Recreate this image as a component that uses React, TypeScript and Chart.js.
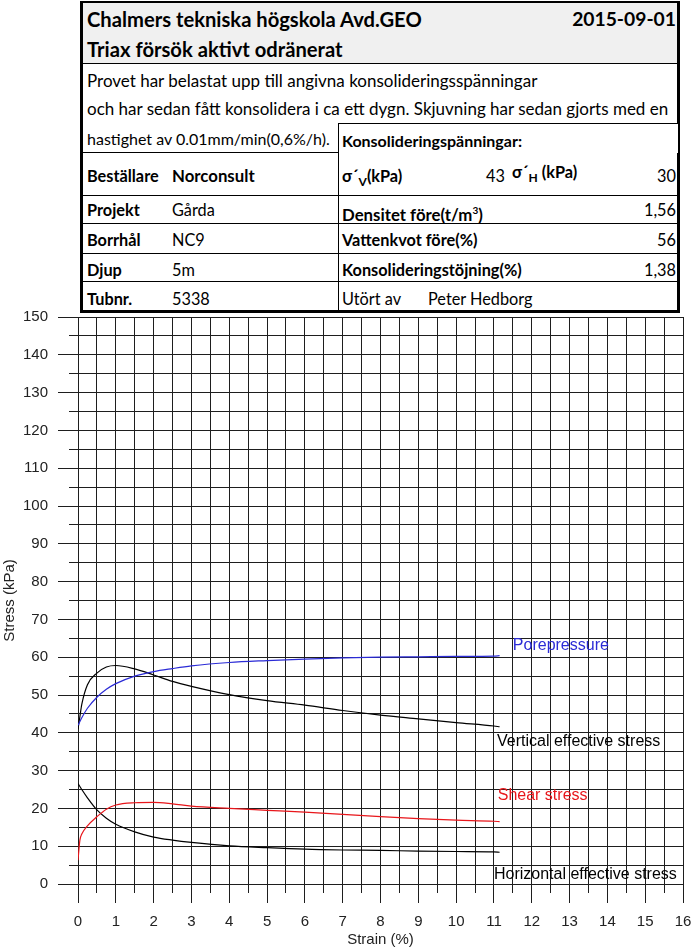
import React, { useEffect, useRef } from 'react';
import { Chart, registerables } from 'chart.js';

Chart.register(...registerables);

// ---- data ----
const strain = [0, 0.05, 0.1, 0.25, 0.5, 0.75, 1, 1.5, 2, 2.5, 3, 4, 5, 6, 7, 8, 9, 10, 11, 11.15];
const porePressure = [42, 43, 44, 46.5, 49.4, 51.5, 53, 55, 56.2, 57, 57.7, 58.6, 59.1, 59.5, 59.8, 60, 60.1, 60.2, 60.3, 60.4];
const verticalEff = [41, 44.3, 47.5, 52.7, 55.8, 57.4, 57.8, 56.9, 55.3, 53.6, 52.3, 50.1, 48.5, 47.3, 45.9, 44.7, 43.7, 42.7, 41.8, 41.6];
const shearStress = [6.3, 11.6, 13.2, 15.4, 17.8, 19.8, 20.9, 21.5, 21.6, 21.2, 20.6, 20, 19.5, 19, 18.4, 17.8, 17.3, 16.9, 16.6, 16.5];
const horizontalEff = [26.6, 25.8, 25.0, 22.8, 19.6, 17.4, 15.8, 13.8, 12.4, 11.6, 11.0, 10.1, 9.6, 9.2, 9.0, 8.9, 8.7, 8.6, 8.5, 8.4];

const seriesNames = ['Porepressure', 'Vertical effective stress', 'Shear stress', 'Horizontal effective stress'];
const seriesColors = ['#2b2bd6', '#000000', '#e8161b', '#000000'];
// label anchors in data units (strain %, stress kPa)
const labelStrain = [11.5, 11.08, 11.1, 11.0];
const labelStress = [63.0, 37.6, 23.3, 2.6];

const xMin = 0, xMax = 16, xStep = 0.5;
const yMin = 0, yMax = 150, yStep = 5;

const GRID = '#1e1e1e';
const AXIS_FONT = "'Liberation Sans', Arial, sans-serif";
const TABLE_FONT = "Lato, 'Open Sans', sans-serif";

const pts = (ys: number[]) => strain.map((x, i) => ({ x, y: ys[i] }));

const extPlugin = {
  id: 'ext',
  afterDatasetsDraw(chart: any) {
    const { ctx, chartArea, scales } = chart;
    const xs = scales.x, ys = scales.y;
    ctx.save();
    ctx.strokeStyle = GRID;
    ctx.lineWidth = 1;
    ctx.beginPath();
    ys.ticks.forEach((t: any) => {
      const y = Math.round(ys.getPixelForValue(t.value) - 0.5) + 0.5;
      const len = t.value % 10 === 0 ? 20 : 9;
      ctx.moveTo(chartArea.left - len, y);
      ctx.lineTo(chartArea.left, y);
    });
    xs.ticks.forEach((t: any) => {
      const x = Math.round(xs.getPixelForValue(t.value) - 0.5) + 0.5;
      const len = Number.isInteger(t.value) ? 19 : 9;
      ctx.moveTo(x, chartArea.bottom);
      ctx.lineTo(x, chartArea.bottom + len);
    });
    ctx.stroke();
    ctx.font = `16px ${AXIS_FONT}`;
    ctx.textBaseline = 'middle';
    ctx.textAlign = 'left';
    seriesNames.forEach((n, i) => {
      ctx.fillStyle = seriesColors[i];
      ctx.fillText(n, xs.getPixelForValue(labelStrain[i]), ys.getPixelForValue(labelStress[i]));
    });
    ctx.restore();
  },
};

const sh = { position: 'absolute' as const, background: '#000' };
const HL = (x1: number, x2: number, y: number, w = 1, k?: string) => (
  <div key={k} style={{ ...sh, left: x1, top: y, width: x2 - x1, height: w }} />
);
const VL = (x: number, y1: number, y2: number, w = 1, k?: string) => (
  <div key={k} style={{ ...sh, left: x, top: y1, width: w, height: y2 - y1 }} />
);

function T(props: { x: number; y: number; b?: boolean; s?: number; r?: boolean; children: any }) {
  const { x, y, b, s = 16.3, r, children } = props;
  const h = 24;
  const style: any = {
    position: 'absolute',
    top: y - h / 2,
    height: h,
    lineHeight: h + 'px',
    whiteSpace: 'nowrap',
    fontFamily: TABLE_FONT,
    fontWeight: b ? 700 : 400,
    fontSize: s,
    color: '#000',
  };
  if (r) style.right = 692 - x; else style.left = x;
  return <div style={style}>{children}</div>;
}

function Table() {
  return (
    <div style={{ position: 'absolute', left: 0, top: 0, width: 692, height: 320 }}>
      <div style={{ position: 'absolute', left: 80, top: 1, width: 600, height: 312, background: '#fff', boxSizing: 'border-box', border: '2px solid #000', borderBottomWidth: 3, borderLeftWidth: 3, borderRightWidth: 3 }} />
      <div style={{ position: 'absolute', left: 83, top: 3, width: 594, height: 60, background: '#f0f0f0' }} />
      {HL(80, 678, 63, 1, 'a')}
      {HL(80, 338, 152, 1, 'c')}
      <T x={87} y={19} b s={20.2}>Chalmers tekniska högskola Avd.GEO</T>
      <T x={676} y={19} b s={19.3} r>2015-09-01</T>
      <T x={87} y={49} b s={20.2}>Triax försök aktivt odränerat</T>
      <T x={87} y={81} s={17}>Provet har belastat upp till angivna konsolideringsspänningar</T>
      <T x={87} y={109} s={17}>och har sedan fått konsolidera i ca ett dygn. Skjuvning har sedan gjorts med en</T>
      <T x={87} y={139} s={16}>hastighet av 0.01mm/min(0,6%/h).</T>
      <div style={{ position: 'absolute', left: 338, top: 123, width: 340, height: 30, background: '#fff' }} />
      {HL(338, 678, 123, 1, 'b')}
      {VL(338, 123, 312, 1, 'd')}
      {HL(80, 678, 195, 1, 'e')}
      {HL(80, 678, 223, 1, 'f')}
      {HL(80, 678, 253, 1, 'g')}
      {HL(80, 678, 281, 1, 'h')}
      <T x={342} y={141} b s={16}>Konsolideringspänningar:</T>

      <T x={87} y={176} b>Beställare</T>
      <T x={172} y={176} b s={16.8}>Norconsult</T>
      <T x={342} y={176} b>σ´<sub style={{ fontSize: 12 }}>V</sub>(kPa)</T>
      <T x={505} y={176} r>43</T>
      <T x={512} y={172} b>σ´<sub style={{ fontSize: 12 }}>H</sub> (kPa)</T>
      <T x={676} y={176} r>30</T>

      <T x={87} y={210} b>Projekt</T>
      <T x={172} y={210}>Gårda</T>
      <T x={342} y={210} b s={16.8}>Densitet före(t/m<sup style={{ fontSize: 10 }}>3</sup>)</T>
      <T x={676} y={210} r>1,56</T>

      <T x={87} y={240} b>Borrhål</T>
      <T x={172} y={240}>NC9</T>
      <T x={342} y={240} b>Vattenkvot före(%)</T>
      <T x={676} y={240} r>56</T>

      <T x={87} y={270} b>Djup</T>
      <T x={172} y={270}>5m</T>
      <T x={342} y={270} b>Konsolideringstöjning(%)</T>
      <T x={676} y={270} r>1,38</T>

      <T x={87} y={299} b>Tubnr.</T>
      <T x={172} y={299}>5338</T>
      <T x={342} y={299}>Utört av</T>
      <T x={428} y={299}>Peter Hedborg</T>
    </div>
  );
}

export default function App() {
  const ref = useRef<HTMLCanvasElement>(null);
  useEffect(() => {
    const datasets = [porePressure, verticalEff, shearStress, horizontalEff].map((d, i) => ({
      label: seriesNames[i],
      data: pts(d),
      borderColor: seriesColors[i],
      backgroundColor: seriesColors[i],
      borderWidth: 1.2,
      pointRadius: 0,
      fill: false,
      cubicInterpolationMode: 'monotone' as const,
    }));
    const chart = new Chart(ref.current!, {
      type: 'line',
      data: { datasets },
      plugins: [extPlugin],
      options: {
        animation: false,
        responsive: false,
        layout: { padding: { top: 317, right: 9, left: 0, bottom: 0 } },
        plugins: { legend: { display: false }, tooltip: { enabled: false } },
        scales: {
          x: {
            type: 'linear',
            min: xMin,
            max: xMax,
            afterFit: (s: any) => { s.height = 66; },
            grid: { color: GRID, lineWidth: 1, drawTicks: true, tickLength: 29, tickColor: 'rgba(0,0,0,0)' },
            border: { color: GRID, width: 1 },
            ticks: {
              stepSize: xStep,
              autoSkip: false,
              maxRotation: 0,
              padding: 0,
              color: '#222',
              font: { family: AXIS_FONT, size: 15 },
              callback: (v: any) => (Number.isInteger(v) ? String(v) : ''),
            },
            title: { display: true, text: 'Strain (%)', color: '#222', font: { family: AXIS_FONT, size: 15 }, padding: { top: 0, bottom: 1 } },
          },
          y: {
            type: 'linear',
            min: yMin,
            max: yMax,
            afterFit: (s: any) => { s.width = 78; },
            grid: { color: GRID, lineWidth: 1, drawTicks: true, tickLength: 30, tickColor: 'rgba(0,0,0,0)' },
            border: { color: GRID, width: 1 },
            ticks: {
              stepSize: yStep,
              autoSkip: false,
              padding: 0,
              color: '#222',
              font: { family: AXIS_FONT, size: 15 },
              callback: (v: any) => (v % 10 === 0 ? String(v) : ''),
            },
            title: { display: true, text: 'Stress (kPa)', color: '#222', font: { family: AXIS_FONT, size: 15 }, padding: { top: 1, bottom: 0 } },
          },
        },
      },
    });
    return () => chart.destroy();
  }, []);
  return (
    <div style={{ position: 'absolute', left: 0, top: 0, width: 692, height: 950, background: '#fff' }}>
      <canvas ref={ref} width={692} height={950} style={{ position: 'absolute', left: 0, top: 0 }} />
      <Table />
    </div>
  );
}
